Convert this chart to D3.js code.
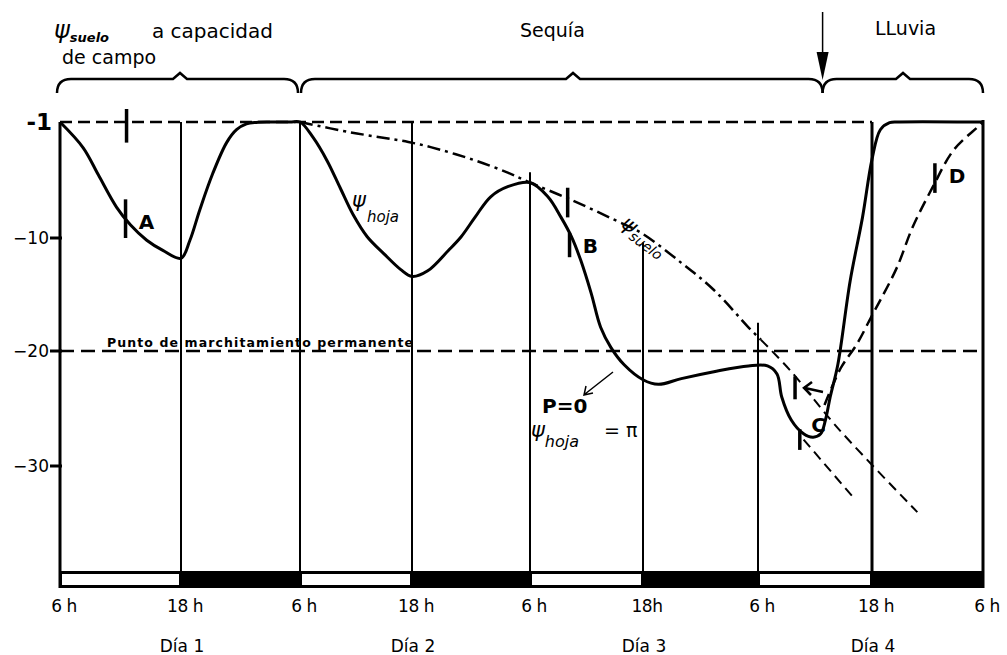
<!DOCTYPE html>
<html>
<head>
<meta charset="utf-8">
<script src="https://cdn.jsdelivr.net/npm/d3@7"></script>
<style>
  body { margin: 0; background: #fff; }
  svg text { font-family: "DejaVu Sans", sans-serif; fill: #000; }
</style>
</head>
<body>
<script>
// hours since 6h of day 1, psi in bar
var gridHours = [0, 12, 24, 36, 48, 60, 72, 84, 96];
var gridTop = [-1, -1, -1, -1, -4.9, -10.4, -17.5, -1, -1];
var hourLabels = ["6 h", "18 h", "6 h", "18 h", "6 h", "18h", "6 h", "18 h", "6 h"];
var dayHours = [12, 36, 60, 84];
var dayLabels = ["Día 1", "Día 2", "Día 3", "Día 4"];
var yTicks = [-10, -20, -30];
var dayStarts = [0, 24, 48, 72];

var leafCurve = [
    [0, -1], [2.3, -3.0], [3.8, -5.1], [5.6, -7.6], [7, -9.0], [8.6, -10.2], [10.2, -11.1], [12, -11.8],
    [12.9, -10.2], [13.9, -7.8], [15.2, -5.0], [16.6, -2.6], [17.6, -1.6], [18.6, -1.15], [19.6, -1.03],
    [21, -1], [23, -1], [24, -1],
    [25.4, -2.2], [26.9, -4.0], [28.3, -6.1], [29.7, -8.2], [31.2, -9.9], [33, -11.4], [34.8, -12.8], [36, -13.4],
    [37.6, -12.9], [39.7, -11.1], [41, -9.9], [42.4, -8.4], [44, -6.8], [45.8, -6.0], [48, -5.7],
    [49.9, -6.8], [51.3, -8.4], [52.4, -9.9], [53.4, -12.0], [54.5, -14.9], [55.5, -17.9], [56.6, -19.7],
    [58, -21.2], [60, -22.5], [61.6, -22.9], [64, -22.4], [67.4, -21.8], [71, -21.3], [73, -21.3],
    [74, -22], [74.5, -24], [75.5, -26], [76.8, -27.2], [77.8, -27.5], [78.6, -27.2], [79.1, -26],
    [79.6, -24], [80.4, -21.2], [81.7, -13.8], [83, -8.4], [84, -3.9], [84.9, -1.6], [85.9, -1.05],
    [87, -1], [95, -1], [96, -1]
];
var soilCurve = [
    [24, -1], [29.4, -1.8], [35.6, -2.55], [37.9, -2.95], [42.3, -3.95], [45.8, -4.95], [48, -5.7],
    [52.4, -7.05], [57, -8.6], [59.8, -9.6], [64, -12.2], [67.4, -14.6], [71, -17.9], [72.3, -19]
];
var soilDrought = [[72.3, -19], [75.4, -21.7], [80.4, -26.7], [88.9, -34]];
var leafDrought = [[76.8, -27.7], [82, -32.7]];
var soilRain = [
    [79, -24.7], [80.7, -21.5], [82.4, -19.4], [84.1, -16.7], [84.9, -15.5], [86.7, -12.6],
    [88.4, -9.15], [90.6, -6.0], [92.8, -3.2], [95.4, -1.4], [96, -1]
];
// short marks: hour, psi top, psi bottom
var marks = [[6.6, 0, -2.6], [6.5, -7.0, -10.0], [52.0, -6.1, -8.4], [52.2, -9.6, -11.7],
             [75.9, -22.2, -24.2], [76.4, -26.8, -28.6], [90.8, -4.2, -6.5]];
var markLetters = [["A", 7.8, -9.3], ["B", 53.6, -11.3], ["C", 77.6, -27.0], ["D", 92.3, -5.7]];

function init(){
    var w = 1007, h = 655;

    var x = d3.scaleLinear()
        .domain(gridHours)
        .range([60, 181, 300, 412, 530, 643, 758, 872, 983]);
    var y = d3.scaleLinear()
        .domain([0, -1, -10, -20, -30, -39.2])
        .range([109, 122, 238, 351, 466, 572]);

    var svg = d3.select("body").append("svg")
        .attr("width", w)
        .attr("height", h);

    var line = d3.line()
        .x(function(d) { return x(d[0]); })
        .y(function(d) { return y(d[1]); })
        .curve(d3.curveCatmullRom.alpha(0.5));

    // day / night bar
    var yb = y(-39.2);
    svg.append("rect")
        .attr("x", x(0)).attr("y", yb - 1)
        .attr("width", x(96) - x(0)).attr("height", 17)
        .attr("fill", "#000");
    svg.selectAll(".day")
        .data(dayStarts)
        .enter()
        .append("rect")
        .attr("x", function(d) { return x(d) + 2; })
        .attr("y", yb + 2)
        .attr("width", function(d) { return x(d + 12) - x(d) - 4; })
        .attr("height", 11)
        .attr("fill", "#fff");

    // reference lines
    svg.append("line")
        .attr("x1", x(0)).attr("x2", x(84))
        .attr("y1", y(-1)).attr("y2", y(-1))
        .attr("stroke", "#000").attr("stroke-width", 2.5)
        .attr("stroke-dasharray", "12,6");
    svg.append("line")
        .attr("x1", x(0)).attr("x2", x(96))
        .attr("y1", y(-20)).attr("y2", y(-20))
        .attr("stroke", "#000").attr("stroke-width", 2.5)
        .attr("stroke-dasharray", "14,7");

    // vertical lines
    svg.selectAll(".vline")
        .data(gridHours)
        .enter()
        .append("line")
        .attr("x1", function(d) { return x(d); })
        .attr("x2", function(d) { return x(d); })
        .attr("y1", function(d, i) { return y(gridTop[i]) - (i == 8 ? 2 : 0); })
        .attr("y2", function(d, i) { return i == 0 || i == 8 ? yb + 16 : yb; })
        .attr("stroke", "#000")
        .attr("stroke-width", function(d, i) { return i == 0 || i == 7 || i == 8 ? 3 : 2; });

    // curves
    svg.append("path")
        .attr("d", line(soilCurve))
        .attr("fill", "none").attr("stroke", "#000").attr("stroke-width", 2.5)
        .attr("stroke-dasharray", "13,5,3,5");
    svg.append("path")
        .attr("d", line(soilDrought))
        .attr("fill", "none").attr("stroke", "#000").attr("stroke-width", 2)
        .attr("stroke-dasharray", "10,6");
    svg.append("path")
        .attr("d", line(leafDrought))
        .attr("fill", "none").attr("stroke", "#000").attr("stroke-width", 2)
        .attr("stroke-dasharray", "10,6");
    svg.append("path")
        .attr("d", line(soilRain))
        .attr("fill", "none").attr("stroke", "#000").attr("stroke-width", 2.5)
        .attr("stroke-dasharray", "12,6");
    svg.append("path")
        .attr("d", line(leafCurve))
        .attr("fill", "none").attr("stroke", "#000").attr("stroke-width", 3)
        .attr("stroke-linejoin", "round");

    // marks
    svg.selectAll(".mark")
        .data(marks)
        .enter()
        .append("line")
        .attr("x1", function(d) { return x(d[0]); })
        .attr("x2", function(d) { return x(d[0]); })
        .attr("y1", function(d) { return y(d[1]); })
        .attr("y2", function(d) { return y(d[2]); })
        .attr("stroke", "#000").attr("stroke-width", 3.5);
    svg.selectAll(".letter")
        .data(markLetters)
        .enter()
        .append("text")
        .attr("x", function(d) { return x(d[1]); })
        .attr("y", function(d) { return y(d[2]); })
        .attr("font-size", 20)
        .attr("font-weight", "bold")
        .text(function(d) { return d[0]; });

    // small arrow near C
    svg.append("path")
        .attr("d", "M823,392 L805,388 M812,382 L804,388 L811,395")
        .attr("fill", "none").attr("stroke", "#000").attr("stroke-width", 2.5);

    // y labels
    svg.append("text")
        .attr("x", 52).attr("y", y(-1) + 8)
        .attr("text-anchor", "end")
        .attr("font-size", 23).attr("font-weight", "bold")
        .text("-1");
    svg.selectAll(".ylab")
        .data(yTicks)
        .enter()
        .append("text")
        .attr("x", 49)
        .attr("y", function(d) { return y(d) + 6; })
        .attr("text-anchor", "end")
        .attr("font-size", 17)
        .text(function(d) { return "−" + Math.abs(d); });
    svg.selectAll(".ytick")
        .data(yTicks)
        .enter()
        .append("line")
        .attr("x1", 50).attr("x2", 62)
        .attr("y1", function(d) { return y(d); })
        .attr("y2", function(d) { return y(d); })
        .attr("stroke", "#000").attr("stroke-width", 3);

    // x labels
    svg.selectAll(".xlab")
        .data(gridHours)
        .enter()
        .append("text")
        .attr("x", function(d) { return x(d) + 4; })
        .attr("y", 612)
        .attr("text-anchor", "middle")
        .attr("font-size", 17)
        .attr("letter-spacing", -0.5)
        .text(function(d, i) { return hourLabels[i]; });
    svg.selectAll(".daylab")
        .data(dayHours)
        .enter()
        .append("text")
        .attr("x", function(d) { return x(d) + 1; })
        .attr("y", 652)
        .attr("text-anchor", "middle")
        .attr("font-size", 17)
        .text(function(d, i) { return dayLabels[i]; });

    svg.append("text")
        .attr("x", 107).attr("y", 347)
        .attr("font-size", 12.5).attr("font-weight", "bold")
        .attr("textLength", 306).attr("lengthAdjust", "spacing")
        .text("Punto de marchitamiento permanente");

    // psi labels
    var t1 = svg.append("text").attr("x", 352).attr("y", 207).attr("font-style", "italic");
    t1.append("tspan").attr("font-size", 21).text("ψ");
    t1.append("tspan").attr("x", 367).attr("dy", 15).attr("font-size", 15).text("hoja");

    var t2 = svg.append("text").attr("transform", "translate(620,226) rotate(37)").attr("font-style", "italic");
    t2.append("tspan").attr("font-size", 21).text("ψ");
    t2.append("tspan").attr("dy", 5).attr("font-size", 14).text("suelo");

    svg.append("text")
        .attr("x", 542).attr("y", 413)
        .attr("font-size", 20).attr("font-weight", "bold")
        .text("P=0");
    svg.append("path")
        .attr("d", "M613,372 L585,394 M586,386 L584,395 L593,393")
        .attr("fill", "none").attr("stroke", "#000").attr("stroke-width", 1.5);
    var t3 = svg.append("text").attr("x", 531).attr("y", 437);
    t3.append("tspan").attr("font-size", 21).attr("font-style", "italic").text("ψ");
    t3.append("tspan").attr("dy", 10).attr("font-size", 16).attr("font-style", "italic").text("hoja");
    t3.append("tspan").attr("x", 604).attr("dy", -10).attr("font-size", 19).text("= π");

    // header labels
    var t4 = svg.append("text").attr("x", 54).attr("y", 38).attr("font-style", "italic");
    t4.append("tspan").attr("font-size", 24).text("ψ");
    t4.append("tspan").attr("dy", 4).attr("font-size", 13).attr("font-weight", "bold").text("suelo");
    svg.append("text").attr("x", 152).attr("y", 38).attr("font-size", 20).text("a capacidad");
    svg.append("text").attr("x", 62).attr("y", 64).attr("font-size", 19).text("de campo");
    svg.append("text").attr("x", 520).attr("y", 37).attr("font-size", 19).text("Sequía");
    svg.append("text").attr("x", 875).attr("y", 35).attr("font-size", 19).text("LLuvia");

    // braces
    function brace(x0, x1, xm, yTop) {
        return "M" + x0 + "," + (yTop + 14) +
            " Q" + x0 + "," + yTop + " " + (x0 + 14) + "," + yTop +
            " L" + (xm - 7) + "," + yTop +
            " L" + xm + "," + (yTop - 6) +
            " L" + (xm + 7) + "," + yTop +
            " L" + (x1 - 14) + "," + yTop +
            " Q" + x1 + "," + yTop + " " + x1 + "," + (yTop + 14);
    }
    var rain = x(78.8);
    [[x(0) - 3, x(24) - 2, x(12) - 1], [x(24) + 1, rain, 573], [rain, x(96), 903]].forEach(function(b) {
        svg.append("path")
            .attr("d", brace(b[0], b[1], b[2], 79))
            .attr("fill", "none").attr("stroke", "#000").attr("stroke-width", 2.5);
    });

    // rain arrow
    svg.append("line")
        .attr("x1", rain).attr("x2", rain)
        .attr("y1", 12).attr("y2", 60)
        .attr("stroke", "#000").attr("stroke-width", 1.5);
    svg.append("path")
        .attr("d", "M" + (rain - 6) + ",52 L" + (rain + 6) + ",52 L" + rain + ",80 Z")
        .attr("fill", "#000");
}

window.onload = init;
</script>
</body>
</html>
